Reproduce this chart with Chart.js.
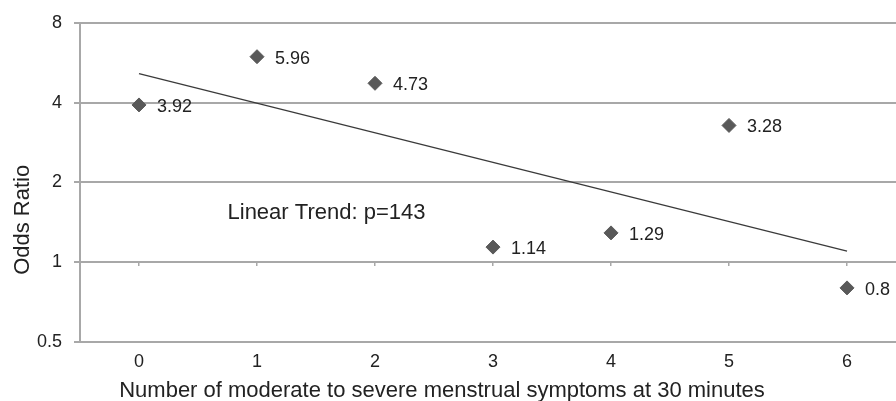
<!DOCTYPE html>
<html>
<head>
<meta charset="utf-8">
<script src="https://cdn.jsdelivr.net/npm/chart.js@4/dist/chart.umd.min.js"></script>
<style>
  html, body { margin: 0; padding: 0; background: #fff; overflow: hidden; }
  canvas { display: block; }
</style>
</head>
<body>
<canvas id="chart" width="896" height="401"></canvas>
<script>
// data
const symptomCounts = [0, 1, 2, 3, 4, 5, 6];
const oddsRatios = [3.92, 5.96, 4.73, 1.14, 1.29, 3.28, 0.8];
const oddsLabels = ['3.92', '5.96', '4.73', '1.14', '1.29', '3.28', '0.8'];
const trendX = [0, 6];
const trendY = [5.14, 1.10];
const yTicks = [0.5, 1, 2, 4, 8];
const trendNote = 'Linear Trend: p=143';
const xTitle = 'Number of moderate to severe menstrual symptoms at 30 minutes';
const yTitle = 'Odds Ratio';

const FONT = '"Liberation Sans", Arial, sans-serif';
const TEXT = '#222';
const GRID = '#a8a8a8';

// labels beside the points, the trend note and the two axis titles
const textPlugin = {
    id: 'textBits',
    afterDatasetsDraw(chart) {
        const { ctx, chartArea } = chart;
        const x = chart.scales.x, y = chart.scales.y;
        ctx.save();
        ctx.fillStyle = TEXT;
        ctx.textBaseline = 'middle';
        ctx.textAlign = 'left';
        ctx.font = '18px ' + FONT;
        oddsRatios.forEach((v, i) => {
            ctx.fillText(oddsLabels[i], x.getPixelForValue(symptomCounts[i]) + 18, y.getPixelForValue(v) + 2);
        });
        ctx.font = '22px ' + FONT;
        ctx.fillText(trendNote, x.getPixelForValue(0.75), y.getPixelForValue(1.54));

        ctx.textAlign = 'center';
        ctx.fillText(xTitle, chartArea.left + 362, chart.height - 10);
        ctx.translate(23, chartArea.top + 197);
        ctx.rotate(-Math.PI / 2);
        ctx.fillText(yTitle, 0, 0);
        ctx.restore();
    }
};

const setXTicks = s => { s.ticks = symptomCounts.map(v => ({ value: v })); };

new Chart(document.getElementById('chart'), {
    type: 'scatter',
    data: {
        datasets: [
            {
                label: 'Odds ratio',
                data: symptomCounts.map((c, i) => ({ x: c, y: oddsRatios[i] })),
                pointStyle: 'rectRot',
                pointRadius: 7,
                pointHoverRadius: 7,
                backgroundColor: '#595959',
                borderColor: '#595959',
                borderWidth: 1
            },
            {
                label: 'Trend',
                type: 'line',
                data: trendX.map((c, i) => ({ x: c, y: trendY[i] })),
                borderColor: '#3a3a3a',
                borderWidth: 1.3,
                pointRadius: 0,
                fill: false
            }
        ]
    },
    options: {
        responsive: false,
        animation: false,
        devicePixelRatio: 1,
        layout: { autoPadding: false, padding: { top: 22, right: 0, bottom: 0, left: 0 } },
        plugins: {
            legend: { display: false },
            tooltip: { enabled: false }
        },
        scales: {
            x: {
                type: 'linear',
                min: -0.5,
                max: 6.415,
                afterBuildTicks: setXTicks,
                afterFit: s => { s.height = 59; },
                grid: { display: false, drawTicks: false },
                border: { display: false },
                ticks: { color: TEXT, font: { size: 18, family: FONT }, padding: 9 }
            },
            xMarks: {
                type: 'linear',
                axis: 'x',
                position: { y: 1 },
                min: -0.5,
                max: 6.415,
                afterBuildTicks: setXTicks,
                grid: { drawOnChartArea: false, drawTicks: true, tickLength: 4, color: GRID, lineWidth: 1.5 },
                border: { display: false },
                ticks: { display: false }
            },
            y: {
                type: 'logarithmic',
                position: 'left',
                min: 0.5,
                max: 8,
                afterBuildTicks: s => { s.ticks = yTicks.map(v => ({ value: v })); },
                afterFit: s => { s.width = 80; },
                grid: { color: GRID, lineWidth: 2, tickLength: 6 },
                border: { display: true, color: GRID, width: 2 },
                ticks: {
                    color: TEXT,
                    font: { size: 18, family: FONT },
                    padding: 12,
                    callback: v => String(v)
                }
            }
        }
    },
    plugins: [textPlugin]
});
</script>
</body>
</html>
